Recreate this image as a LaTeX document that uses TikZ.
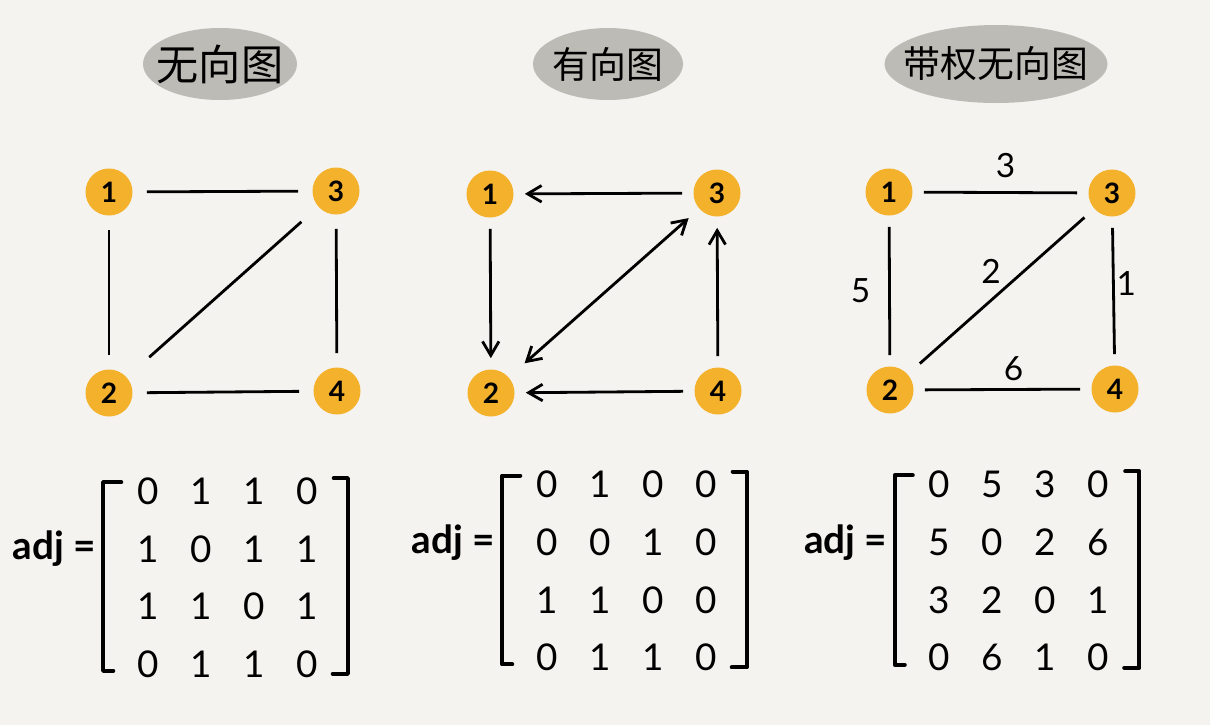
\documentclass[tikz,border=0pt]{standalone}
\usepackage{fontspec}
\setmainfont{Lato}
\newfontfamily\cjk{Noto Sans CJK SC}
\usepackage{tikz}
\usetikzlibrary{arrows.meta,positioning,calc,matrix,shapes.geometric}

\definecolor{paper}{HTML}{F4F3EF}
\definecolor{blobcol}{HTML}{BDBBB5}
\definecolor{vertexcol}{HTML}{F4B12C}

\begin{document}
\begin{tikzpicture}[x=0.02cm, y=-0.02cm,
    >={Straight Barb[length=2.8mm,width=3.3mm]},
    vertex/.style={circle, fill=vertexcol, minimum size=0.94cm, inner sep=0pt, font=\fontsize{16}{16}\selectfont\bfseries},
    link/.style={line width=1.6pt, shorten <=0.28cm, shorten >=0.28cm},
    arc/.style={line width=1.6pt, shorten <=0.22cm, shorten >=0.22cm},
    weight/.style={inner sep=1pt, font=\fontsize{19}{19}\selectfont},
    blob/.style={ellipse, fill=blobcol, inner sep=0pt},
    heading/.style={font=\cjk\fontsize{24}{24}\selectfont},
    adjmat/.style={matrix of nodes, inner sep=0pt, nodes={minimum width=1.06cm, minimum height=1.15cm, inner sep=0pt, font=\fontsize{21}{21}\selectfont}},
    adjlabel/.style={font=\fontsize{22}{22}\selectfont\bfseries, inner sep=0pt},
    bracket/.style={line width=2.4pt, line cap=round, line join=round}]

    \fill[paper] (0,0) rectangle (1210,725);

    % titles
    \node[blob, minimum width=3.08cm, minimum height=1.44cm] (blobA) at (220,64) {};
    \node[heading] (headA) at (blobA) {无向图};
    \node[blob, minimum width=3.0cm, minimum height=1.44cm] (blobB) at (608,64) {};
    \node[heading, font=\cjk\fontsize{21}{21}\selectfont] (headB) at (blobB) {有向图};
    \node[blob, minimum width=4.46cm, minimum height=1.56cm] (blobC) at (996,64) {};
    \node[heading, font=\cjk\fontsize{21}{21}\selectfont] (headC) at (blobC) {带权无向图};

    % undirected graph
    \node[vertex] (u1) at (109,192) {1};
    \node[vertex] (u3) at (336,191) {3};
    \node[vertex] (u2) at (109,393) {2};
    \node[vertex] (u4) at (337,391) {4};
    \draw[link] (u1) -- (u3);
    \draw[link] (u1) -- (u2);
    \draw[link] (u3) -- (u4);
    \draw[link] (u2) -- (u4);
    \draw[link, shorten <=0.6cm, shorten >=0.45cm] (u2) -- (u3);

    % directed graph
    \node[vertex] (d1) at (490,194) {1};
    \node[vertex] (d3) at (717,193) {3};
    \node[vertex] (d2) at (491,393) {2};
    \node[vertex] (d4) at (718,391) {4};
    \draw[arc, ->] (d3) -- (d1);
    \draw[arc, ->] (d1) -- (d2);
    \draw[arc, ->] (d4) -- (d3);
    \draw[arc, ->] (d4) -- (d2);
    \draw[arc, <->, shorten <=0.42cm, shorten >=0.28cm] (d2) -- (d3);

    % weighted graph
    \node[vertex] (w1) at (889,192) {1};
    \node[vertex] (w3) at (1112,193) {3};
    \node[vertex] (w2) at (890,390) {2};
    \node[vertex] (w4) at (1115,389) {4};
    \draw[arc] (w1) -- (w3) node[weight, midway, above=0.24cm, xshift=0.1cm] (c13) {3};
    \draw[arc] (w1) -- (w2) node[weight, midway, left=0.32cm] (c12) {5};
    \draw[arc] (w3) -- (w4) node[weight, midway, right=0cm, yshift=0.14cm] (c34) {1};
    \draw[arc] (w2) -- (w4) node[weight, midway, above=0.12cm, xshift=0.22cm] (c24) {6};
    \draw[arc, shorten <=0.32cm, shorten >=0.26cm] (w2) -- (w3) node[weight, midway, above=0.1cm, xshift=-0.2cm] (c23) {2};

    % adjacency matrices
    \matrix[adjmat] (adjA) at (227.5,577.5) {
        0 & 1 & 1 & 0 \\
        1 & 0 & 1 & 1 \\
        1 & 1 & 0 & 1 \\
        0 & 1 & 1 & 0 \\
    };
    \matrix[adjmat] (adjB) at (626.5,571) {
        0 & 1 & 0 & 0 \\
        0 & 0 & 1 & 0 \\
        1 & 1 & 0 & 0 \\
        0 & 1 & 1 & 0 \\
    };
    \matrix[adjmat] (adjC) at (1019,571) {
        0 & 5 & 3 & 0 \\
        5 & 0 & 2 & 6 \\
        3 & 2 & 0 & 1 \\
        0 & 6 & 1 & 0 \\
    };
    \node[adjlabel, left=0.5cm of adjA-2-1] (lblA) {adj =};
    \node[adjlabel, left=0.5cm of adjB-2-1] (lblB) {adj =};
    \node[adjlabel, left=0.5cm of adjC-2-1] (lblC) {adj =};

    \foreach \m in {adjA,adjB,adjC}{
        \draw[bracket] ($(\m.north west)+(0,20)$) -- ($(\m.north west)+(-18,20)$)
            -- ($(\m.south west)+(-18,-22)$) -- ($(\m.south west)+(-8,-22)$);
        \draw[bracket] ($(\m.north east)+(0,16)$) -- ($(\m.north east)+(14,16)$)
            -- ($(\m.south east)+(14,-19)$) -- ($(\m.south east)+(-1,-19)$);
    }
\end{tikzpicture}
\end{document}
